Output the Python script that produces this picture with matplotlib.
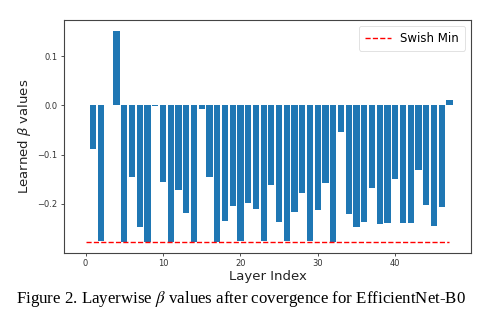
import matplotlib
matplotlib.use("Agg")
import matplotlib.pyplot as plt
import numpy as np

layers = list(range(48))
beta = [0.001, -0.089, -0.275, 0.0, 0.152, -0.278, -0.145, -0.247, -0.278, -0.001,
        -0.156, -0.278, -0.171, -0.218, -0.278, -0.007, -0.145, -0.278, -0.236, -0.204,
        -0.276, -0.198, -0.211, -0.276, -0.161, -0.238, -0.275, -0.216, -0.179, -0.275,
        -0.213, -0.157, -0.278, -0.055, -0.220, -0.248, -0.238, -0.168, -0.241, -0.240,
        -0.150, -0.240, -0.240, -0.132, -0.203, -0.245, -0.207, 0.010]
swish_min = -0.2785
xticks = [0, 10, 20, 30, 40]
yticks = [-0.2, -0.1, 0.0, 0.1]

fig = plt.figure(figsize=(4.82, 3.24), dpi=100)
ax = fig.add_axes([64/482, 1-253/324, (471-64)/482, (253-20)/324])
ax.bar(layers, beta, width=0.8, color="#1f77b4")
ax.plot([layers[0], layers[-1]], [swish_min, swish_min], color="red", linestyle="--",
        linewidth=1.0, label="Swish Min")
ax.set_xticks(xticks)
ax.set_yticks(yticks)
ax.tick_params(labelsize=6, length=2.5, width=0.6, colors="#333333", pad=2)
for s in ax.spines.values():
    s.set_linewidth(0.8)
    s.set_color("#444444")
ax.set_xlabel("Layer Index", fontsize=9.5, color="#222222", labelpad=1)
ax.set_ylabel(r"Learned $\beta$ values", fontsize=9.5, color="#222222", labelpad=3)
leg = ax.legend(loc="upper right", fontsize=8.5, handlelength=2.2, borderpad=0.5,
                framealpha=1, edgecolor="#dddddd")
leg.get_frame().set_linewidth(0.6)

fig.text(0.5, 1-299/324, r"Figure 2. Layerwise $\beta$ values after covergence for EfficientNet-B0",
         ha="center", va="center", fontsize=12.2, family="Liberation Serif", math_fontfamily="stix")

fig.savefig("out.png", dpi=100)
